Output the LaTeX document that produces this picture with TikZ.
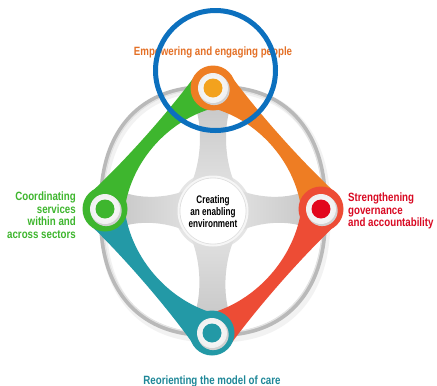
\documentclass[tikz,border=0pt]{standalone}
\usepackage{fontspec}
\usetikzlibrary{calc}
\newfontfamily\labelfont[FakeStretch=0.81]{Liberation Sans}
\newfontfamily\hubfont[FakeStretch=0.74]{Liberation Sans}

\definecolor{wOrange}{RGB}{238,125,35}
\definecolor{wOrangeDot}{RGB}{243,162,30}
\definecolor{wOrangeText}{RGB}{228,112,38}
\definecolor{wGreen}{RGB}{62,182,46}
\definecolor{wRed}{RGB}{237,76,53}
\definecolor{wRedDot}{RGB}{226,6,28}
\definecolor{wRedText}{RGB}{217,10,35}
\definecolor{wTeal}{RGB}{35,153,166}
\definecolor{wTealText}{RGB}{30,135,152}
\definecolor{wBlue}{RGB}{12,112,190}

% one coloured band of the wheel, drawn clockwise from #1 to #2
\newcommand\wheelarm[3]{%
  \path ($(#1)!22pt!75:(#2)$) coordinate (ao)
        ($(#2)!22pt!-75:(#1)$) coordinate (bo)
        ($(#1)!22pt!-30:(#2)$) coordinate (ai)
        ($(#2)!22pt!30:(#1)$) coordinate (bi);
  \fill[#3] (ao) .. controls ($(ao)!0.3!(bo)!4pt!-90:(bo)$) and ($(ao)!0.7!(bo)!4pt!-90:(bo)$) .. (bo)
     -- (bi) .. controls ($(bi)!0.3!(ai)!22pt!-90:(ai)$) and ($(bi)!0.7!(ai)!22pt!-90:(ai)$) .. (ai) -- cycle;}

% grey spoke from the centre #1 out to the hub #2, shaded with option #3
\newcommand\wheelspoke[3]{%
  \shade[#3]
    ($(#1)!0.2!(#2)!23pt!90:(#2)$)
      .. controls ($(#1)!0.42!(#2)!10pt!90:(#2)$) and ($(#1)!0.78!(#2)!9pt!90:(#2)$)
      .. ($(#1)!0.95!(#2)!24pt!90:(#2)$)
    -- ($(#1)!0.95!(#2)!24pt!-90:(#2)$)
      .. controls ($(#1)!0.78!(#2)!9pt!-90:(#2)$) and ($(#1)!0.42!(#2)!10pt!-90:(#2)$)
      .. ($(#1)!0.2!(#2)!23pt!-90:(#2)$)
    -- (#1) -- cycle;}

% a hub: coloured ring, white disc, coloured dot
\newcommand\wheelhub[4]{%
  \node[hubring, fill=#2] (#1) at (#3) {};
  \fill[black!18] ($(#3)+(1.2,1.6)$) circle (15.5);
  \shade[inner color=white, outer color=gray!12] (#3) circle (15);
  \fill[#4] (#3) circle (9.5);}

\begin{document}
\begin{tikzpicture}[x=1pt,y=-1pt,
  hubring/.style={circle, minimum size=45pt, inner sep=0pt},
  lbl/.style={font=\labelfont\bfseries\fontsize{12}{12.5}\selectfont, inner sep=0pt},
  hubtxt/.style={font=\hubfont\bfseries\fontsize{11}{12}\selectfont, inner sep=0pt, text=black}]
\useasboundingbox (0,0) rectangle (437,386);
\fill[white] (0,0) rectangle (437,386);

\coordinate (C) at (213,211);
\coordinate (T) at (213,88);
\coordinate (R) at (321,209);
\coordinate (B) at (212,333);
\coordinate (L) at (105,209);

% outer grey rim with its soft shadow
\draw[line width=7pt, gray!10] plot[domain=1:359, samples=180]
  ({215+112*cos(\x)*pow(abs(cos(\x)),-0.1667)},{214+125*sin(\x)*pow(abs(sin(\x)),-0.1667)}) -- cycle;
\draw[line width=4.5pt, gray!55] plot[domain=1:359, samples=180]
  ({213+112*cos(\x)*pow(abs(cos(\x)),-0.1667)},{211+124*sin(\x)*pow(abs(sin(\x)),-0.1667)}) -- cycle;
\draw[line width=1.3pt, gray!22] plot[domain=1:359, samples=180]
  ({213+110*cos(\x)*pow(abs(cos(\x)),-0.1667)},{211+122*sin(\x)*pow(abs(sin(\x)),-0.1667)}) -- cycle;

% grey halo round the centre and the four spokes
\fill[gray!20] (C) circle (38.5);
\wheelspoke{C}{T}{top color=gray!45, bottom color=gray!18}
\wheelspoke{C}{B}{top color=gray!18, bottom color=gray!45}
\wheelspoke{C}{R}{left color=gray!18, right color=gray!45}
\wheelspoke{C}{L}{left color=gray!45, right color=gray!18}

% coloured bands
\wheelarm{T}{R}{wOrange}
\wheelarm{R}{B}{wRed}
\wheelarm{B}{L}{wTeal}
\wheelarm{L}{T}{wGreen}

% hubs
\wheelhub{hub-top}{wOrange}{T}{wOrangeDot}
\wheelhub{hub-right}{wRed}{R}{wRedDot}
\wheelhub{hub-bottom}{wTeal}{B}{wTeal}
\wheelhub{hub-left}{wGreen}{L}{wGreen}

% centre disc
\fill[gray!7] (C) circle (35.5);
\draw[gray!25, line width=0.8pt] (C) circle (33);
\fill[white] (C) circle (32.5);
\node[hubtxt, align=center, anchor=north] (t-hub) at (213,195) {Creating\\an enabling\\environment};

% labels
\node[lbl, text=wOrangeText, anchor=base] (t-top) at (213,55) {Empowering and engaging people};
\node[lbl, text=wGreen, align=right, anchor=north east] (t-left) at (76,192) {Coordinating\\services\\within and\\across sectors};
\node[lbl, text=wRedText, align=left, anchor=north west] (t-right) at (348,193) {Strengthening\\governance\\and accountability};
\node[lbl, text=wTealText, anchor=base] (t-bottom) at (212,384) {Reorienting the model of care};

% highlight circle
\draw[wBlue, line width=5pt] (215.5,70.5) circle (60);
\end{tikzpicture}
\end{document}
